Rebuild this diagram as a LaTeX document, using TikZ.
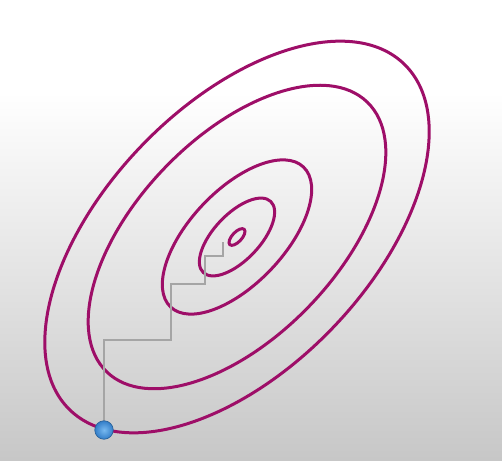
\documentclass[tikz,border=0pt]{standalone}
\definecolor{contourcol}{RGB}{158,14,104}
\definecolor{bgbot}{RGB}{199,199,199}
\definecolor{bgmid}{RGB}{226,226,226}
\definecolor{pathgray}{RGB}{165,165,165}
\definecolor{dotin}{RGB}{120,185,240}
\definecolor{dotout}{RGB}{50,125,200}
\pgfdeclareverticalshading{bgshade}{100bp}{color(0bp)=(bgbot); color(25bp)=(bgbot); color(44bp)=(bgmid); color(65bp)=(white); color(100bp)=(white)}
\begin{document}
\begin{tikzpicture}[x=1pt,y=1pt,
  contour/.style={draw=contourcol, line width=3pt},
  stair/.style={draw=pathgray, line width=1.1pt},
  ball/.style={circle, inner sep=0pt, minimum size=18.5pt, draw=dotout!75!black, line width=0.6pt, inner color=dotin, outer color=dotout}]
\shade[shading=bgshade] (0,0) rectangle (502,460);
\useasboundingbox (0,0) rectangle (502,460);
\coordinate (c) at (237,223);
\draw[contour, rotate around={46:(c)}] (c) ellipse [x radius=240.5pt, y radius=132pt];
\draw[contour, rotate around={46:(c)}] (c) ellipse [x radius=187.5pt, y radius=100pt];
\draw[contour, rotate around={46.5:(c)}] (c) ellipse [x radius=96.5pt, y radius=47pt];
\draw[contour, rotate around={46.5:(c)}] (c) ellipse [x radius=49pt, y radius=23pt];
\draw[contour, rotate around={47:(c)}] (c) ellipse [x radius=10.5pt, y radius=4.8pt];
\coordinate (start) at (104,30);
\coordinate (p1) at (171,120);
\coordinate (p2) at (205,176);
\coordinate (p3) at (223,204);
\coordinate (goal) at (223,218);
\draw[stair] (start) |- (p1) |- (p2) |- (p3) -- (goal);
\node[ball] (dot) at (start) {};
\end{tikzpicture}
\end{document}
